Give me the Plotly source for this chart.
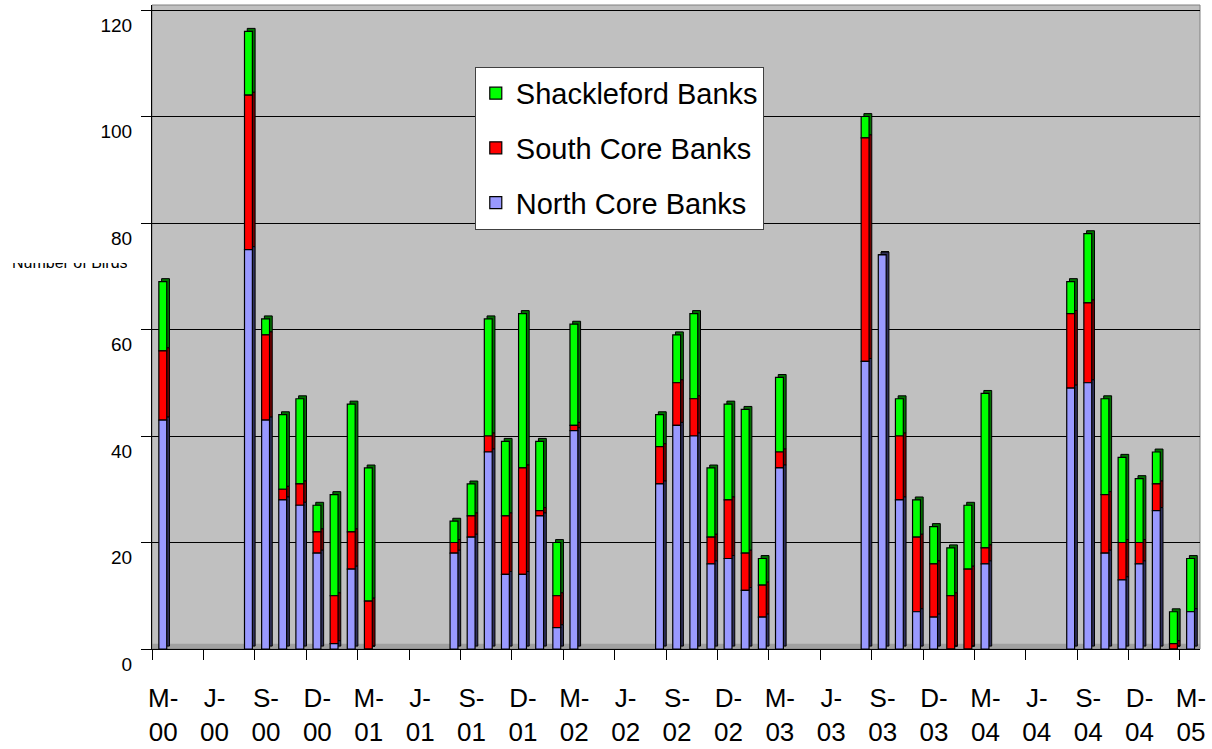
import plotly.graph_objects as go

# Monthly survey counts (year-month) for the three island units
months = [
    "2000-03",
    "2000-08", "2000-09", "2000-10", "2000-11", "2000-12", "2001-01", "2001-02", "2001-03",
    "2001-08", "2001-09", "2001-10", "2001-11", "2001-12", "2002-01", "2002-02", "2002-03",
    "2002-08", "2002-09", "2002-10", "2002-11", "2002-12", "2003-01", "2003-02", "2003-03",
    "2003-08", "2003-09", "2003-10", "2003-11", "2003-12", "2004-01", "2004-02", "2004-03",
    "2004-08", "2004-09", "2004-10", "2004-11", "2004-12", "2005-01", "2005-02", "2005-03",
]
north_core = [
    43,
    75, 43, 28, 27, 18, 1, 15, 0,
    18, 21, 37, 14, 14, 25, 4, 41,
    31, 42, 40, 16, 17, 11, 6, 34,
    54, 74, 28, 7, 6, 0, 0, 16,
    49, 50, 18, 13, 16, 26, 0, 7,
]
south_core = [
    13,
    29, 16, 2, 4, 4, 9, 7, 9,
    2, 4, 3, 11, 20, 1, 6, 1,
    7, 8, 7, 5, 11, 7, 6, 3,
    42, 0, 12, 14, 10, 10, 15, 3,
    14, 15, 11, 7, 4, 5, 1, 0,
]
shackleford = [
    13,
    12, 3, 14, 16, 5, 19, 24, 25,
    4, 6, 22, 14, 29, 13, 10, 19,
    6, 9, 16, 13, 18, 27, 5, 14,
    4, 0, 7, 7, 7, 9, 12, 29,
    6, 13, 18, 16, 12, 6, 6, 10,
]
tick_labels = [
    "M-<br>00", "J-<br>00", "S-<br>00", "D-<br>00",
    "M-<br>01", "J-<br>01", "S-<br>01", "D-<br>01",
    "M-<br>02", "J-<br>02", "S-<br>02", "D-<br>02",
    "M-<br>03", "J-<br>03", "S-<br>03", "D-<br>03",
    "M-<br>04", "J-<br>04", "S-<br>04", "D-<br>04",
    "M-<br>05",
]

# month index counted from March 2000
x = [(int(m[:4]) - 2000) * 12 + int(m[5:]) - 3 for m in months]

base_south = north_core
base_shack = [a + b for a, b in zip(north_core, south_core)]

series = [
    ("Shackleford Banks", shackleford, base_shack, "#00ff00", "#007000"),
    ("South Core Banks", south_core, base_south, "#ff0000", "#700000"),
    ("North Core Banks", north_core, [0] * len(x), "#9999ff", "#30305a"),
]

BAR_W = 0.46
DX, DY = 0.16, 0.55  # pseudo-3D side/top face offset

fig = go.Figure()

# darker faces drawn first so the front faces sit over them
for name, vals, base, col, dark in series:
    fig.add_trace(go.Bar(
        x=[v + DX for v in x], y=vals, base=[b + DY for b in base],
        width=BAR_W, marker=dict(color=dark, line=dict(color="black", width=1)),
        showlegend=False, hoverinfo="skip",
    ))

for name, vals, base, col, dark in series:
    fig.add_trace(go.Bar(
        x=x, y=vals, base=base, name=name, legendgroup=name,
        width=BAR_W, marker=dict(color=col, line=dict(color="black", width=1.2)),
    ))

tick_pos = [3 * k - 0.62 for k in range(len(tick_labels))]

fig.update_layout(
    width=1212, height=749,
    barmode="overlay",
    margin=dict(l=152, r=12, t=5, b=100),
    paper_bgcolor="white",
    plot_bgcolor="#c0c0c0",
    font=dict(family="Arial, Liberation Sans, sans-serif", color="black"),
    xaxis=dict(
        range=[-0.63, 60.55], automargin=False,
        tickmode="array", tickvals=tick_pos, ticktext=tick_labels,
        ticks="outside", ticklen=10, tickcolor="black", tickwidth=1,
        ticklabelshift=11, ticklabelstandoff=16,
        tickfont=dict(size=26),
        showline=True, linecolor="black", linewidth=1,
        showgrid=False, zeroline=False,
    ),
    yaxis=dict(
        range=[0, 120.94], automargin=False,
        tickmode="array", tickvals=[0, 20, 40, 60, 80, 100, 120],
        ticks="outside", ticklen=10, tickcolor="black", tickwidth=1,
        ticklabelshift=15, ticklabelstandoff=5,
        tickfont=dict(size=19),
        showline=True, linecolor="black", linewidth=1,
        showgrid=True, gridcolor="black", gridwidth=1, zeroline=False,
    ),
    legend=dict(
        x=0.308, y=0.904, xanchor="left", yanchor="top",
        bgcolor="white", bordercolor="#404040", borderwidth=1,
        font=dict(size=29), traceorder="grouped", tracegroupgap=14,
        itemwidth=30,
    ),
    shapes=[
        # chart floor
        dict(type="rect", xref="paper", x0=0, x1=1, yref="y", y0=0, y1=1.0,
             fillcolor="#a0a0a0", line=dict(width=0), layer="below"),
        # wall outline
        dict(type="rect", xref="paper", x0=0, x1=1, yref="paper", y0=0, y1=1,
             line=dict(color="#808080", width=1), layer="below"),
    ],
    annotations=[
        dict(text="Number of Birds", xref="paper", yref="paper",
             x=-0.1355, y=0.603, xanchor="left", yanchor="top",
             height=8, valign="bottom", showarrow=False,
             font=dict(size=16)),
    ],
)

fig.write_html("out.html")
